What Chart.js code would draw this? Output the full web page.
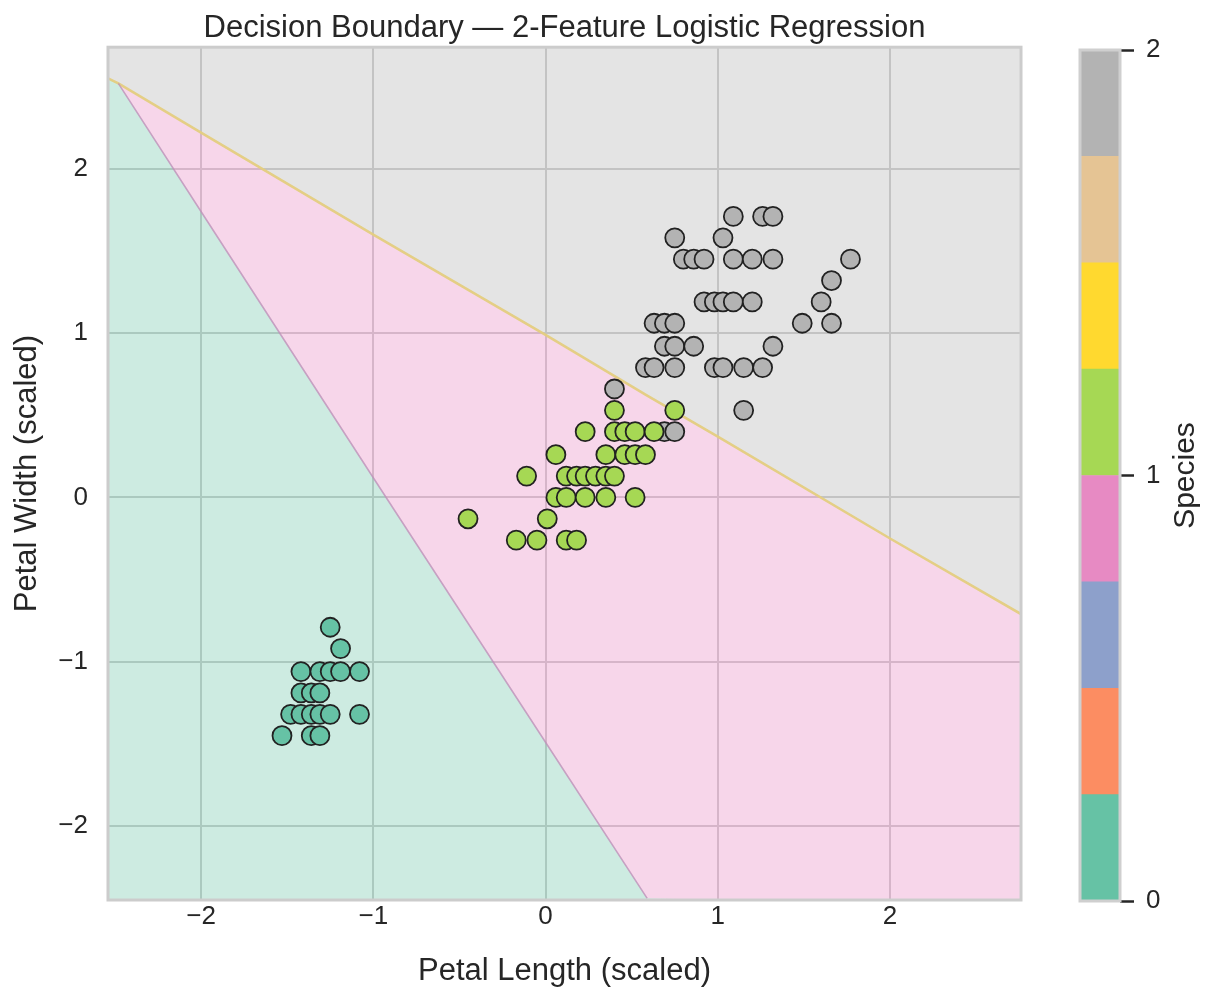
<!DOCTYPE html>
<html>
<head>
<meta charset="utf-8">
<title>Decision Boundary</title>
<script src="https://cdn.jsdelivr.net/npm/chart.js@4.4.1/dist/chart.umd.min.js"></script>
<style>
  html, body { margin: 0; padding: 0; background: #fff; }
  #wrap { position: relative; width: 1209px; height: 990px; }
  #main { position: absolute; left: 0; top: 0; }
  #cbar { position: absolute; left: 1040px; top: 0; }
</style>
</head>
<body>
<div id="wrap">
  <canvas id="main" width="1209" height="990"></canvas>
  <canvas id="cbar" width="169" height="990"></canvas>
</div>
<script>
// scaled petal length (x) / petal width (y)
const setosaX = [-1.25, -1.19, -1.42, -1.31, -1.25, -1.19, -1.08, -1.42, -1.36, -1.31,
  -1.48, -1.42, -1.36, -1.31, -1.25, -1.08, -1.53, -1.36, -1.31];
const setosaY = [-0.79, -0.92, -1.06, -1.06, -1.06, -1.06, -1.06, -1.19, -1.19, -1.19,
  -1.32, -1.32, -1.32, -1.32, -1.32, -1.32, -1.45, -1.45, -1.45];

const versicolorX = [-0.17, -0.05, 0.12, 0.18,
  -0.45, 0.01,
  0.06, 0.12, 0.23, 0.35, 0.52,
  -0.11, 0.12, 0.18, 0.23, 0.29, 0.35, 0.40,
  0.06, 0.35, 0.46, 0.52, 0.58,
  0.23, 0.40, 0.46, 0.52, 0.63,
  0.40, 0.75];
const versicolorY = [-0.26, -0.26, -0.26, -0.26,
  -0.13, -0.13,
  0.00, 0.00, 0.00, 0.00, 0.00,
  0.13, 0.13, 0.13, 0.13, 0.13, 0.13, 0.13,
  0.26, 0.26, 0.26, 0.26, 0.26,
  0.40, 0.40, 0.40, 0.40, 0.40,
  0.53, 0.53];

const virginicaX = [1.09, 1.26, 1.32,
  0.75, 1.03,
  0.80, 0.86, 0.92, 1.09, 1.20, 1.32, 1.77,
  1.66,
  0.92, 0.98, 1.03, 1.09, 1.20, 1.60,
  0.63, 0.69, 0.75, 1.49, 1.66,
  0.69, 0.75, 0.86, 1.32,
  0.58, 0.63, 0.75, 0.98, 1.03, 1.15, 1.26,
  0.40,
  1.15,
  0.69, 0.75];
const virginicaY = [1.71, 1.71, 1.71,
  1.58, 1.58,
  1.45, 1.45, 1.45, 1.45, 1.45, 1.45, 1.45,
  1.32,
  1.19, 1.19, 1.19, 1.19, 1.19, 1.19,
  1.06, 1.06, 1.06, 1.06, 1.06,
  0.92, 0.92, 0.92, 0.92,
  0.79, 0.79, 0.79, 0.79, 0.79, 0.79, 0.79,
  0.66,
  0.53,
  0.40, 0.40];

// region edges sampled along x
const boundaryX = [-2.54, -2.48, -2, -1, 0, 0.59, 1, 2, 2.76];
const upperBoundary = [2.55, 2.52, 2.22, 1.60, 0.99, 0.62, 0.37, -0.25, -0.71]; // gray / pink
const lowerBoundary = [2.55, 2.52, 1.74, 0.12, -1.49, -2.44, -2.45, -2.45, -2.45]; // teal / pink

const xTicks = [-2, -1, 0, 1, 2];
const yTicks = [-2, -1, 0, 1, 2];
const cbarTicks = [0, 1, 2];
const cbarColors = ['#66c2a5', '#fc8d62', '#8da0cb', '#e78ac3', '#a6d854', '#ffd92f', '#e5c494', '#b3b3b3'];
const cbarSteps = [0.25, 0.25, 0.25, 0.25, 0.25, 0.25, 0.25, 0.25];

const FONT = "'Liberation Sans', Arial, sans-serif";
const TEXT = '#262626';
const X_MIN = -2.54, X_MAX = 2.76, Y_MIN = -2.45, Y_MAX = 2.74;

const pairs = (xs, ys) => xs.map((x, i) => ({ x: x, y: ys[i] }));
const minusFmt = v => (v < 0 ? '\u2212' + Math.abs(v) : String(v));

const frame = {
  id: 'frame',
  afterDatasetsDraw(chart, args, opts) {
    const a = chart.chartArea, ctx = chart.ctx;
    ctx.save();
    ctx.strokeStyle = opts.color || '#cccccc';
    ctx.lineWidth = opts.width || 2;
    ctx.strokeRect(a.left, a.top, a.right - a.left, a.bottom - a.top);
    ctx.restore();
  }
};

const sideLabel = {
  id: 'sideLabel',
  afterDraw(chart, args, opts) {
    if (!opts.text) return;
    const a = chart.chartArea, ctx = chart.ctx;
    ctx.save();
    ctx.translate(opts.x, (a.top + a.bottom) / 2);
    ctx.rotate(-Math.PI / 2);
    ctx.font = opts.size + 'px ' + FONT;
    ctx.fillStyle = TEXT;
    ctx.textAlign = 'center';
    ctx.textBaseline = 'middle';
    ctx.fillText(opts.text, 0, 0);
    ctx.restore();
  }
};

function species(label, xs, ys, color) {
  return {
    label: label,
    data: pairs(xs, ys),
    backgroundColor: color,
    borderColor: '#222222',
    borderWidth: 1.8,
    pointRadius: 9.5,
    pointHoverRadius: 9.5
  };
}

const edgeLower = pairs(boundaryX, lowerBoundary).filter(p => p.x >= -2.48 && p.y > Y_MIN);

new Chart(document.getElementById('main'), {
  type: 'scatter',
  data: {
    datasets: [
      species('setosa', setosaX, setosaY, cbarColors[0]),
      species('versicolor', versicolorX, versicolorY, cbarColors[4]),
      species('virginica', virginicaX, virginicaY, cbarColors[7]),
      { type: 'line', data: edgeLower, borderColor: 'rgba(190,145,185,0.8)', borderWidth: 1.6,
        pointRadius: 0, fill: false },
      { type: 'line', data: pairs(boundaryX, upperBoundary), borderColor: 'rgba(228,205,128,0.95)', borderWidth: 2.6,
        pointRadius: 0, fill: 'end', backgroundColor: 'rgba(179,179,179,0.35)' },
      { type: 'line', data: pairs(boundaryX, upperBoundary), borderWidth: 0,
        pointRadius: 0, fill: '+1', backgroundColor: 'rgba(231,138,195,0.35)' },
      { type: 'line', data: pairs(boundaryX, lowerBoundary), borderWidth: 0,
        pointRadius: 0, fill: 'start', backgroundColor: 'rgba(102,194,165,0.33)' }
    ]
  },
  options: {
    responsive: false,
    animation: false,
    devicePixelRatio: 1,
    events: [],
    layout: { padding: { left: 0, right: 188, top: 0, bottom: 0 } },
    plugins: {
      legend: { display: false },
      tooltip: { enabled: false },
      title: {
        display: true,
        text: 'Decision Boundary \u2014 2-Feature Logistic Regression',
        fullSize: false,
        color: TEXT,
        font: { family: FONT, size: 31, weight: 'normal' },
        padding: { top: 10, bottom: 0 }
      },
      frame: { color: '#cccccc', width: 3 }
    },
    scales: {
      x: {
        type: 'linear',
        min: X_MIN,
        max: X_MAX,
        afterFit: s => { s.height = 90; },
        afterBuildTicks: s => { s.ticks = xTicks.map(v => ({ value: v })); },
        grid: { color: '#cccccc', lineWidth: 2, drawTicks: false },
        border: { display: false },
        ticks: { padding: 1, color: TEXT, font: { family: FONT, size: 26 }, callback: minusFmt },
        title: { display: true, text: 'Petal Length (scaled)', color: TEXT,
          font: { family: FONT, size: 31 }, padding: { top: 0, bottom: 0 } }
      },
      y: {
        type: 'linear',
        min: Y_MIN,
        max: Y_MAX,
        afterFit: s => { s.width = 108; },
        afterBuildTicks: s => { s.ticks = yTicks.map(v => ({ value: v })); },
        grid: { color: '#cccccc', lineWidth: 2, drawTicks: false },
        border: { display: false },
        ticks: { padding: 20, color: TEXT, font: { family: FONT, size: 26 }, callback: minusFmt },
        title: { display: true, text: 'Petal Width (scaled)', color: TEXT,
          font: { family: FONT, size: 31 }, padding: { top: 9, bottom: 0 } }
      }
    }
  },
  plugins: [frame]
});

new Chart(document.getElementById('cbar'), {
  type: 'bar',
  data: {
    labels: [''],
    datasets: cbarColors.map((c, i) => ({
      data: [cbarSteps[i]],
      backgroundColor: c,
      borderWidth: 0,
      barPercentage: 1,
      categoryPercentage: 1
    }))
  },
  options: {
    responsive: false,
    animation: false,
    devicePixelRatio: 1,
    events: [],
    layout: { padding: { left: 40, right: 0, top: 50, bottom: 89 } },
    plugins: {
      legend: { display: false },
      tooltip: { enabled: false },
      frame: { color: '#cfcfcf', width: 3 },
      sideLabel: { text: 'Species', x: 146, size: 30 }
    },
    scales: {
      x: { display: false, stacked: true },
      y: {
        position: 'right',
        stacked: true,
        min: 0,
        max: 2,
        afterFit: s => { s.width = 89; },
        afterBuildTicks: s => { s.ticks = cbarTicks.map(v => ({ value: v })); },
        grid: { drawOnChartArea: false, drawTicks: true, tickLength: 14, tickWidth: 2.5, tickColor: TEXT },
        border: { display: false },
        ticks: { padding: 12, color: TEXT, font: { family: FONT, size: 26 } }
      }
    }
  },
  plugins: [frame, sideLabel]
});
</script>
</body>
</html>
